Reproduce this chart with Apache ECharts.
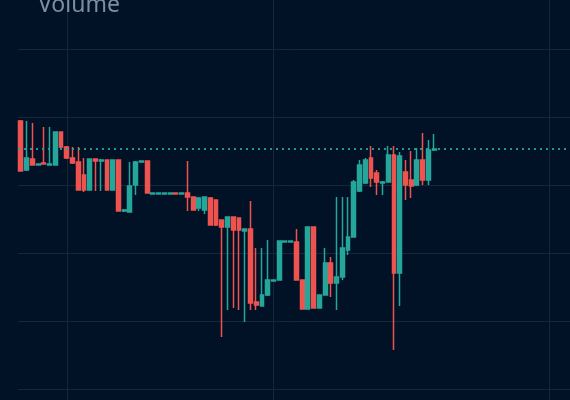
<!DOCTYPE html>
<html>
<head>
<meta charset="utf-8">
<script src="https://cdn.jsdelivr.net/npm/echarts@6/dist/echarts.min.js"></script>
<style>
  html, body { margin: 0; padding: 0; background: #011126; }
  #chart { width: 570px; height: 400px; }
</style>
</head>
<body>
<div id="chart"></div>
<script>
// ---- data ----
const opens = [99.41,92.21,93.82,92.94,93.24,92.94,92.94,97.79,95.59,93.97,
  93.38,91.47,89.26,93.82,93.53,93.68,89.26,93.68,86.18,86.03,
  90.00,93.38,93.53,88.68,88.68,88.68,88.68,88.82,88.68,88.82,
  88.24,86.62,86.32,88.09,87.79,84.85,83.82,85.29,85.15,83.24,
  83.53,72.79,72.21,73.82,75.88,76.03,81.62,81.62,81.62,76.03,
  71.76,83.82,71.91,73.82,78.53,75.59,76.47,80.44,82.35,89.12,
  90.29,93.97,91.76,90.29,90.44,94.41,77.06,91.91,90.74,90.00,
  93.68,90.74,95.15];
const closes = [92.06,93.97,92.94,93.09,93.09,93.09,97.79,95.59,93.97,93.24,
  89.26,89.26,93.82,93.53,93.68,89.26,93.68,86.18,86.32,89.85,
  93.38,93.53,88.82,88.82,88.82,88.82,88.82,88.68,88.82,88.24,
  86.32,88.09,88.24,84.12,84.12,83.82,85.29,83.38,83.38,83.53,
  72.65,72.35,73.82,76.03,76.03,81.76,81.76,81.76,76.03,71.76,
  83.82,71.91,73.82,78.53,75.59,76.47,80.74,82.35,90.44,92.94,
  93.68,91.03,90.44,90.44,94.41,77.06,94.26,90.00,89.85,93.68,
  90.74,95.15,95.29];
const lows = [92.06,92.06,92.94,92.94,93.09,92.94,92.94,95.44,93.82,93.09,
  89.26,88.97,89.26,89.12,89.12,89.26,89.26,86.18,86.03,86.03,
  88.53,93.38,88.82,88.68,88.68,88.68,88.68,88.68,88.68,86.18,
  86.32,86.18,85.74,84.12,83.97,67.65,71.62,71.91,71.62,69.85,
  71.62,71.62,72.21,73.68,75.88,76.03,81.62,81.62,76.03,71.76,
  71.76,71.91,71.91,73.82,73.53,71.62,76.03,79.71,82.35,88.97,
  90.15,89.71,88.53,88.53,90.44,65.74,72.21,87.79,88.09,89.85,
  90.00,90.00,95.00];
const highs = [99.56,99.41,99.12,93.09,98.53,98.53,97.79,97.79,95.74,95.59,
  95.59,93.97,93.82,93.82,93.82,93.68,93.68,93.68,86.47,93.38,
  93.53,93.53,93.53,88.82,88.82,88.82,88.82,88.82,88.82,93.53,
  88.24,88.24,88.24,88.24,87.79,84.85,85.29,85.29,85.15,83.53,
  87.65,80.74,80.74,81.91,76.03,81.76,81.76,81.76,83.53,76.03,
  83.82,83.82,73.82,80.74,79.41,88.24,88.24,88.24,90.74,93.68,
  93.97,95.74,92.21,90.59,95.74,95.74,94.85,93.68,95.00,95.44,
  97.65,96.62,97.50];

// category labels (axis continues past the last candle)
const categories = [];
const start = new Date(2023, 0, 2);
for (let i = 0; i < 100; i++) {
  const d = new Date(start.getTime() + i * 86400000);
  categories.push((d.getMonth() + 1) + '/' + d.getDate());
}
const splitIdx = [8, 44, 92];

const candleData = opens.map((o, i) => [o, closes[i], lows[i], highs[i]]);
const lastClose = closes[closes.length - 1];

const chart = echarts.init(document.getElementById('chart'));
chart.setOption({
  backgroundColor: '#011126',
  animation: false,
  title: {
    text: 'Volume',
    left: 38,
    top: -6,
    padding: 0,
    textStyle: { color: '#7e8da3', fontSize: 23, fontWeight: 'normal', fontFamily: 'Noto Sans' }
  },
  grid: { left: 18, width: 574, top: -19, height: 476, outerBoundsMode: 'none', containLabel: false },
  xAxis: {
    type: 'category',
    data: categories,
    boundaryGap: true,
    axisLine: { show: false },
    axisTick: { show: false, alignWithLabel: true },
    axisLabel: { show: false },
    splitLine: {
      show: true,
      alignWithLabel: true,
      interval: (i) => splitIdx.includes(i),
      lineStyle: { color: '#17273b', width: 1 }
    }
  },
  yAxis: {
    type: 'value',
    min: 50, max: 120, interval: 10,
    axisLine: { show: false },
    axisTick: { show: false },
    axisLabel: { show: false },
    splitLine: { show: true, lineStyle: { color: '#17273b', width: 1 } }
  },
  series: [{
    type: 'candlestick',
    data: candleData,
    barWidth: '76%',
    itemStyle: {
      color: '#26a69a', color0: '#ef5350',
      borderColor: '#26a69a', borderColor0: '#ef5350',
      borderWidth: 1.5
    },
    markLine: {
      silent: true,
      symbol: ['none', 'none'],
      label: { show: false },
      lineStyle: { color: '#26a69a', width: 1.8, type: [2, 4], opacity: 0.9 },
      data: [{ yAxis: lastClose }]
    }
  }]
});
</script>
</body>
</html>
